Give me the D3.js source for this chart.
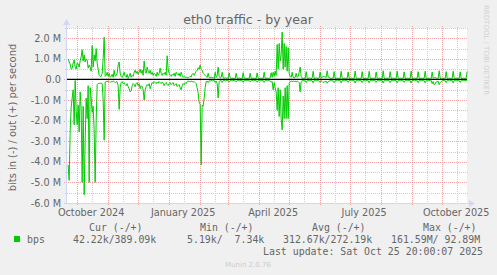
<!DOCTYPE html>
<html>
<head>
<meta charset="utf-8">
<script src="https://cdn.jsdelivr.net/npm/d3@7"></script>
<style>
  body { margin: 0; background: #f0f0f0; }
  svg { display: block; }
  text { font-family: "DejaVu Sans", sans-serif; fill: #666666; }
  .mono { font-family: "DejaVu Sans Mono", monospace; white-space: pre; }
</style>
</head>
<body>
<svg id="chart" width="497" height="275"></svg>
<script>
const title = "eth0 traffic - by year";
const yTitle = "bits in (-) / out (+) per second";
const monthLabels = ["October 2024", "January 2025", "April 2025", "July 2025", "October 2025"];
const monthLabelDates = ["2024-10-15", "2025-01-15", "2025-04-15", "2025-07-15", "2025-10-15"];
const yTickValues = [2, 1, 0, -1, -2, -3, -4, -5, -6];
const yTickLabels = ["2.0 M", "1.0 M", "0.0", "-1.0 M", "-2.0 M", "-3.0 M", "-4.0 M", "-5.0 M", "-6.0 M"];
const legendHeaders = ["Cur (-/+)", "Min (-/+)", "Avg (-/+)", "Max (-/+)"];
const legendValues = ["42.22k/389.09k", "5.19k/  7.34k", "312.67k/272.19k", "161.59M/ 92.89M"];
const seriesName = "bps";
const lastUpdate = "Last update: Sat Oct 25 20:00:07 2025";
const version = "Munin 2.0.76";

// one sample per day, Mbit/s, first sample 2024-09-22
const firstDay = "2024-09-22";
const outValues = [
  1.0, 0.85, 0.75, 0.5, 0.55, 0.8, 0.95, 0.6, 0.5, 0.8,
  0.75, 0.6, 0.9, 1.1, 1.45, 0.9, 1.2, 0.85, 1.0, 0.95,
  0.55, 0.7, 0.6, 0.4, 1.65, 0.6, 1.2, 0.9, 1.5, 0.8,
  0.5, 0.2, 0.15, 0.15, 0.3, 1.0, 2.05, 0.15, 0.2, 0.35,
  0.15, 0.3, 0.1, 0.15, 0.25, 0.1, 0.45, 0.15, 0.2, 0.3,
  0.7, 0.85, 0.3, 0.15, 0.1, 0.2, 0.35, 0.15, 0.1, 0.25,
  0.05, 0.15, 0.3, 0.1, 0.2, 0.15, 0.35, 0.45, 0.3, 0.4,
  0.25, 0.35, 0.5, 0.3, 0.45, 0.2, 0.9, 0.4, 0.3, 0.6,
  0.4, 0.3, 0.45, 0.25, 0.35, 0.2, 0.3, 0.25, 0.15, 0.35,
  0.2, 0.3, 0.55, 0.3, 0.2, 0.3, 0.25, 0.35, 0.2, 1.15,
  0.5, 0.3, 0.2, 0.15, 0.25, 0.2, 0.3, 0.15, 0.35, 0.25,
  0.2, 0.3, 0.15, 0.35, 0.2, 0.1, 0.15, 0.1, 0.12, 0.1,
  0.08, 0.1, 0.15, 0.12, 0.25, 0.3, 0.2, 0.3, 0.4, 0.45,
  0.57, 0.5, 0.7, 0.5, 0.45, 0.3, 0.25, 0.2, 0.15, 0.1,
  0.3, 0.1, 0.08, 0.12, 0.08, 0.1, 0.05, 0.35, 0.1, 0.2,
  0.6, 0.15, 0.08, 0.1, 0.35, 0.08, 0.06, 0.1, 0.05, 0.08,
  0.06, 0.32, 0.08, 0.05, 0.07, 0.05, 0.06, 0.05, 0.3, 0.06,
  0.05, 0.08, 0.05, 0.06, 0.05, 0.33, 0.07, 0.05, 0.06, 0.05,
  0.06, 0.05, 0.3, 0.06, 0.05, 0.07, 0.05, 0.06, 0.05, 0.32,
  0.06, 0.05, 0.06, 0.05, 0.07, 0.05, 0.35, 0.06, 0.05, 0.07,
  0.05, 0.06, 0.08, 0.33, 0.1, 0.35, 0.15, 0.4, 0.2, 1.7,
  0.5, 1.75, 0.9, 1.2, 2.3, 0.5, 1.75, 0.6, 1.6, 0.4,
  1.55, 0.3, 0.15, 0.1, 0.35, 0.1, 0.08, 0.1, 0.3, 0.1,
  0.15, 0.35, 0.6, 0.15, 0.06, 0.05, 0.07, 0.05, 0.38, 0.06,
  0.05, 0.08, 0.06, 0.05, 0.07, 0.4, 0.06, 0.05, 0.08, 0.06,
  0.05, 0.07, 0.36, 0.06, 0.12, 0.15, 0.14, 0.12, 0.1, 0.42,
  0.12, 0.1, 0.06, 0.05, 0.07, 0.06, 0.38, 0.06, 0.05, 0.07,
  0.05, 0.06, 0.05, 0.4, 0.06, 0.05, 0.07, 0.05, 0.06, 0.05,
  0.37, 0.06, 0.05, 0.07, 0.05, 0.06, 0.05, 0.41, 0.06, 0.05,
  0.07, 0.05, 0.06, 0.05, 0.38, 0.06, 0.05, 0.07, 0.05, 0.06,
  0.05, 0.4, 0.06, 0.05, 0.07, 0.05, 0.06, 0.05, 0.36, 0.06,
  0.05, 0.07, 0.05, 0.06, 0.05, 0.42, 0.06, 0.05, 0.07, 0.05,
  0.06, 0.05, 0.38, 0.06, 0.05, 0.07, 0.05, 0.06, 0.05, 0.4,
  0.06, 0.05, 0.07, 0.05, 0.06, 0.05, 0.37, 0.06, 0.05, 0.07,
  0.05, 0.06, 0.05, 0.41, 0.06, 0.05, 0.07, 0.05, 0.06, 0.05,
  0.38, 0.06, 0.05, 0.07, 0.05, 0.06, 0.05, 0.4, 0.06, 0.05,
  0.07, 0.05, 0.06, 0.05, 0.36, 0.06, 0.08, 0.1, 0.07, 0.06,
  0.05, 0.42, 0.06, 0.05, 0.07, 0.05, 0.06, 0.05, 0.38, 0.06,
  0.05, 0.07, 0.05, 0.06, 0.05, 0.4, 0.06, 0.05, 0.07, 0.05,
  0.06, 0.05, 0.37, 0.06, 0.05, 0.07, 0.05, 0.06, 0.05, 0.39
];
const inValues = [
  -4.15, -4.9, -2.5, -1.35, -0.9, -0.5, -2.2, -0.05, -1.5, -2.2,
  -1.25, -2.55, -0.6, -1.4, -5.0, -1.3, -5.6, -3.0, -0.9, -1.9,
  -0.3, -5.0, -0.4, -0.9, -1.6, -1.3, -2.5, -5.0, -2.0, -0.25,
  -0.2, -0.2, -0.18, -0.18, -0.2, -1.0, -2.95, -0.12, -0.1, -0.08,
  -0.12, -0.1, -0.15, -0.1, -0.12, -0.08, -0.1, -0.15, -0.1, -0.12,
  -0.3, -1.45, -0.4, -0.15, -0.1, -0.2, -0.15, -0.25, -0.3, -0.2,
  -0.35, -0.45, -0.6, -0.55, -0.3, -0.2, -0.25, -0.35, -0.2, -0.15,
  -0.3, -0.2, -0.45, -0.3, -0.35, -0.5, -1.0, -0.5, -0.35, -0.25,
  -0.3, -0.2, -0.45, -0.3, -0.15, -0.2, -0.1, -0.15, -0.2, -0.12,
  -0.18, -0.1, -0.15, -0.2, -0.12, -0.18, -0.3, -0.2, -0.15, -0.25,
  -0.3, -0.2, -0.15, -0.25, -0.2, -0.15, -0.3, -0.25, -0.2, -0.35,
  -0.3, -0.25, -0.4, -0.5, -0.3, -0.2, -0.25, -0.15, -0.2, -0.1,
  -0.08, -0.1, -0.12, -0.08, -0.1, -0.12, -0.1, -0.15, -0.2, -0.4,
  -0.65, -1.1, -1.2, -4.15, -1.25, -1.3, -0.9, -0.4, -0.1, -0.08,
  -0.15, -0.06, -0.08, -0.05, -0.07, -0.06, -0.05, -0.15, -0.08, -0.2,
  -0.9, -0.1, -0.06, -0.05, -0.14, -0.06, -0.05, -0.07, -0.05, -0.06,
  -0.05, -0.13, -0.06, -0.05, -0.07, -0.05, -0.06, -0.05, -0.12, -0.06,
  -0.05, -0.07, -0.05, -0.06, -0.05, -0.14, -0.06, -0.05, -0.07, -0.05,
  -0.06, -0.05, -0.12, -0.06, -0.05, -0.07, -0.05, -0.06, -0.05, -0.13,
  -0.06, -0.05, -0.07, -0.05, -0.06, -0.05, -0.14, -0.06, -0.05, -0.07,
  -0.05, -0.06, -0.08, -0.12, -0.1, -0.5, -0.15, -0.4, -0.6, -1.5,
  -0.4, -1.8, -0.5, -1.9, -2.45, -0.8, -1.9, -0.4, -1.9, -0.3,
  -1.9, -0.2, -0.1, -0.08, -0.1, -0.08, -0.1, -0.08, -0.12, -0.08,
  -0.1, -0.15, -0.6, -0.1, -0.06, -0.05, -0.07, -0.05, -0.15, -0.06,
  -0.05, -0.07, -0.06, -0.05, -0.07, -0.16, -0.06, -0.05, -0.07, -0.06,
  -0.05, -0.07, -0.14, -0.06, -0.1, -0.15, -0.12, -0.1, -0.08, -0.18,
  -0.1, -0.08, -0.06, -0.05, -0.07, -0.06, -0.15, -0.06, -0.05, -0.07,
  -0.05, -0.06, -0.05, -0.16, -0.06, -0.05, -0.07, -0.05, -0.06, -0.05,
  -0.14, -0.06, -0.05, -0.07, -0.05, -0.06, -0.05, -0.17, -0.06, -0.05,
  -0.07, -0.05, -0.06, -0.05, -0.15, -0.06, -0.05, -0.07, -0.05, -0.06,
  -0.05, -0.16, -0.06, -0.05, -0.07, -0.05, -0.06, -0.05, -0.14, -0.06,
  -0.05, -0.07, -0.05, -0.06, -0.05, -0.17, -0.06, -0.05, -0.07, -0.05,
  -0.06, -0.05, -0.15, -0.06, -0.05, -0.07, -0.05, -0.06, -0.05, -0.16,
  -0.06, -0.05, -0.07, -0.05, -0.06, -0.05, -0.14, -0.06, -0.05, -0.07,
  -0.05, -0.06, -0.05, -0.17, -0.06, -0.05, -0.07, -0.05, -0.06, -0.05,
  -0.15, -0.06, -0.05, -0.07, -0.05, -0.06, -0.05, -0.16, -0.06, -0.05,
  -0.07, -0.05, -0.06, -0.05, -0.2, -0.1, -0.25, -0.22, -0.12, -0.1,
  -0.08, -0.25, -0.15, -0.1, -0.07, -0.05, -0.06, -0.05, -0.15, -0.06,
  -0.05, -0.07, -0.05, -0.06, -0.05, -0.16, -0.06, -0.05, -0.07, -0.05,
  -0.06, -0.05, -0.15, -0.06, -0.05, -0.07, -0.05, -0.06, -0.05, -0.04
];

const plot = { left: 67, right: 467, top: 28, bottom: 203 };
const green = "#00cc00";
const axisColor = "#cfd6f8";

const endTime = new Date(2025, 9, 25, 20, 0, 7);
const startTime = d3.timeDay.offset(endTime, -400);
const day0 = d3.timeParse("%Y-%m-%d")(firstDay);

const x = d3.scaleTime().domain([startTime, endTime]).range([plot.left, plot.right]);
const y = d3.scaleLinear().domain([-6e6, 2.5e6]).range([plot.bottom, plot.top]);

const svg = d3.select("#chart");

// canvas
svg.append("rect")
    .attr("x", plot.left).attr("y", plot.top)
    .attr("width", plot.right - plot.left).attr("height", plot.bottom - plot.top)
    .attr("fill", "#ffffff");

// grid: minor first, then major
const minorY = d3.range(-6e6, 2.5e6 + 1, 5e5).filter(v => v % 1e6 !== 0);
const majorY = yTickValues.map(v => v * 1e6);
const majorX = d3.timeMonth.range(startTime, endTime);
const minorX = majorX.map(d => d3.timeDay.offset(d, 15)).filter(d => d < endTime);
minorX.unshift(d3.timeDay.offset(d3.timeMonth.floor(startTime), 15));

const grid = svg.append("g").attr("shape-rendering", "crispEdges");
grid.selectAll(".hmin").data(minorY).enter().append("line")
    .attr("x1", plot.left - 2).attr("x2", plot.right + 1)
    .attr("y1", d => Math.round(y(d)) + 0.5).attr("y2", d => Math.round(y(d)) + 0.5)
    .attr("stroke", "#cccccc").attr("stroke-dasharray", "1,1");
grid.selectAll(".vmin").data(minorX.filter(d => d > startTime)).enter().append("line")
    .attr("x1", d => Math.round(x(d)) + 0.5).attr("x2", d => Math.round(x(d)) + 0.5)
    .attr("y1", plot.top - 1).attr("y2", plot.bottom + 2)
    .attr("stroke", "#cccccc").attr("stroke-dasharray", "1,1");
grid.selectAll(".hmaj").data(majorY).enter().append("line")
    .attr("x1", plot.left - 3).attr("x2", plot.right + 1)
    .attr("y1", d => Math.round(y(d)) + 0.5).attr("y2", d => Math.round(y(d)) + 0.5)
    .attr("stroke", "#f3a3a3").attr("stroke-dasharray", "1,1");
grid.selectAll(".vmaj").data(majorX).enter().append("line")
    .attr("x1", d => Math.round(x(d)) + 0.5).attr("x2", d => Math.round(x(d)) + 0.5)
    .attr("y1", plot.top - 2).attr("y2", plot.bottom + 3)
    .attr("stroke", "#f3a3a3").attr("stroke-dasharray", "1,1");

// axes
const axes = svg.append("g").attr("shape-rendering", "crispEdges");
axes.append("line")
    .attr("x1", plot.left - 0.5).attr("x2", plot.left - 0.5)
    .attr("y1", plot.bottom + 1).attr("y2", plot.top - 5)
    .attr("stroke", axisColor);
axes.append("line")
    .attr("x1", plot.left - 3).attr("x2", plot.right + 5)
    .attr("y1", plot.bottom + 0.5).attr("y2", plot.bottom + 0.5)
    .attr("stroke", axisColor);
svg.append("path")
    .attr("d", `M${plot.left - 0.5},${plot.top - 9} l-3.5,6 h7 z`)
    .attr("fill", axisColor);
svg.append("path")
    .attr("d", `M${plot.right + 8},${plot.bottom + 0.5} l-6,-3.5 v7 z`)
    .attr("fill", axisColor);

// tick labels
svg.append("g").selectAll("text").data(yTickValues).enter().append("text")
    .attr("x", plot.left - 6)
    .attr("y", d => y(d * 1e6) + 3.5)
    .attr("text-anchor", "end")
    .style("font-size", "9.7px")
    .text((d, i) => yTickLabels[i]);

svg.append("g").selectAll("text").data(monthLabelDates).enter().append("text")
    .attr("x", d => x(d3.timeParse("%Y-%m-%d")(d)))
    .attr("y", 216)
    .attr("text-anchor", "middle")
    .style("font-size", "9.7px")
    .text((d, i) => monthLabels[i]);

// data lines
const days = outValues.map((v, i) => d3.timeDay.offset(day0, i));
const line = d3.line()
    .x((d, i) => x(days[i]))
    .y(d => y(d * 1e6));

svg.append("path")
    .datum(inValues)
    .attr("d", line)
    .attr("fill", "none")
    .attr("stroke", green)
    .attr("stroke-width", 1);

svg.append("path")
    .datum(outValues)
    .attr("d", line)
    .attr("fill", "none")
    .attr("stroke", green)
    .attr("stroke-width", 1);

// zero rule
svg.append("line")
    .attr("x1", plot.left).attr("x2", plot.right)
    .attr("y1", y(0)).attr("y2", y(0))
    .attr("stroke", "#000000").attr("stroke-width", 1.2);

// titles
svg.append("text")
    .attr("x", 248).attr("y", 23.5)
    .attr("text-anchor", "middle")
    .style("font-size", "12.6px")
    .text(title);

svg.append("text")
    .attr("transform", "translate(15.5," + ((plot.top + plot.bottom) / 2 + 2) + ") rotate(-90)")
    .attr("text-anchor", "middle")
    .style("font-size", "9.9px")
    .text(yTitle);

svg.append("text")
    .attr("transform", "translate(484,5) rotate(90)")
    .attr("text-anchor", "start")
    .style("font-size", "7px")
    .style("fill", "#d0d0d0")
    .text("RRDTOOL / TOBI OETIKER");

// legend
const headerX = [89, 200, 312, 423];
const valueX = [73, 187, 283, 391];
svg.append("g").selectAll("text").data(legendHeaders).enter().append("text")
    .attr("class", "mono")
    .attr("x", (d, i) => headerX[i]).attr("y", 230.5)
    .style("font-size", "9.9px")
    .text(d => d);

svg.append("rect")
    .attr("x", 14).attr("y", 236).attr("width", 6).attr("height", 6)
    .attr("fill", green);
svg.append("text")
    .attr("class", "mono")
    .attr("x", 27).attr("y", 242.5)
    .style("font-size", "9.9px")
    .text(seriesName);

svg.append("g").selectAll("text").data(legendValues).enter().append("text")
    .attr("class", "mono")
    .attr("x", (d, i) => valueX[i]).attr("y", 242.5)
    .style("font-size", "9.9px")
    .text(d => d);

svg.append("text")
    .attr("class", "mono")
    .attr("x", 483).attr("y", 254.5)
    .attr("text-anchor", "end")
    .style("font-size", "9.9px")
    .text(lastUpdate);

svg.append("text")
    .attr("x", 248).attr("y", 267)
    .attr("text-anchor", "middle")
    .style("font-size", "7px")
    .style("fill", "#cccccc")
    .text(version);
</script>
</body>
</html>
